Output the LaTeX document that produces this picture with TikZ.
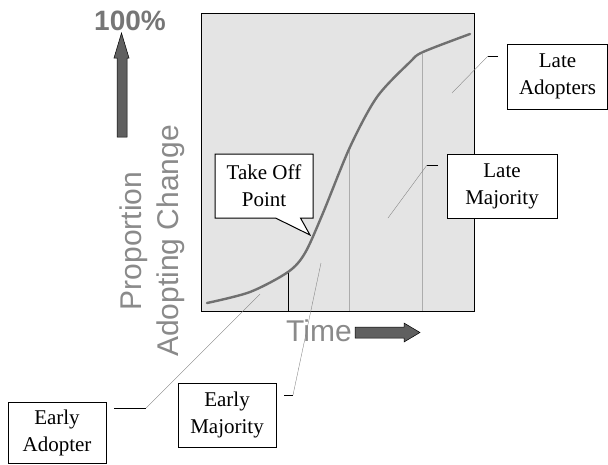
\documentclass[tikz,border=0pt]{standalone}
\usepackage{fontspec}
\usepackage{tikz}
\usetikzlibrary{shapes,shapes.callouts,positioning,calc}
\newfontfamily\axisfont{Liberation Sans}
\newfontfamily\boxfont{Liberation Serif}
\definecolor{plotgray}{RGB}{228,228,228}
\definecolor{curvegray}{RGB}{112,112,112}
\definecolor{divgray}{RGB}{172,172,172}
\definecolor{labelgray}{RGB}{138,138,138}
\definecolor{pctgray}{RGB}{118,118,118}
\definecolor{arrowgray}{RGB}{96,96,96}

\begin{document}
\begin{tikzpicture}[x=1pt,y=-1pt,
  lbl/.style={rectangle, draw, fill=white, line width=1pt, align=center,
              minimum width=98pt, minimum height=64pt, inner sep=2pt,
              font=\boxfont\fontsize{21}{27}\selectfont},
  axis/.style={text=labelgray, font=\axisfont\fontsize{30}{37}\selectfont},
  fat/.style={fill=arrowgray, draw=black, line width=0.5pt},
  tick/.style={line width=0.8pt},
  leader/.style={draw=gray, line width=0.35pt}
]
  \useasboundingbox (0,0) rectangle (608,464);

  \node[draw, fill=plotgray, line width=0.9pt, inner sep=0pt, outer sep=0pt,
        minimum width=273pt, minimum height=298pt, anchor=north west]
        (plot) at (201,13) {};

  \coordinate (c1) at (288,272);
  \coordinate (c2) at (349,150);
  \coordinate (c3) at (422,54);
  \draw[tick] (c1) -- (c1 |- plot.south);
  \draw[divgray, line width=0.7pt] (c2) -- (c2 |- plot.south);
  \draw[divgray, line width=0.7pt] (c3) -- (c3 |- plot.south);

  \draw[curvegray, line width=2.4pt, line cap=round]
    plot[smooth, tension=0.5] coordinates {(207,303) (250,292) (288,272)
      (305,253) (323,213) (350,147) (377,97) (410,62) (423,52) (470,34)};

  \node[pctgray, font=\axisfont\bfseries\fontsize{28}{28}\selectfont]
    (pct) at (130,20.5) {100\%};
  \draw[fat] (117,137) -- (117,58) -- (114,58) -- (121.5,33) -- (129,58)
    -- (127,58) -- (127,137) -- cycle;
  \node[axis, rotate=90, align=center] (ylab) at (152.4,241)
    {Proportion\\Adopting Change};
  \node[axis] (xlab) at (319,331) {Time};
  \draw[fat] (355,327) -- (404,327) -- (404,323) -- (420,332.5) -- (404,342)
    -- (404,338) -- (355,338) -- cycle;

  \node[lbl, rectangle callout, callout absolute pointer={(310,235)},
        callout pointer width=25pt] (takeoff) at (264,186) {Take Off\\Point};
  \node[lbl, minimum width=110pt, right=133pt of takeoff] (latemaj)
    {Late\\Majority};
  \node[lbl, minimum width=100pt, minimum height=65pt] (lateadp)
    at (557.5,76.5) {Late\\Adopters};
  \node[lbl, minimum height=61pt] (earlyadp) at (57,432.5) {Early\\Adopter};
  \node[lbl] (earlymaj) at (227,415) {Early\\Majority};

  \coordinate (ea1) at (114,408);
  \coordinate (ea2) at (146,408);
  \coordinate (ea3) at (260,294);
  \coordinate (em1) at (284,395);
  \coordinate (em2) at (293,395);
  \coordinate (em3) at (321,263);
  \coordinate (lm1) at (438,165);
  \coordinate (lm2) at (427,165);
  \coordinate (lm3) at (388,218);
  \coordinate (la1) at (498,56);
  \coordinate (la2) at (488,56);
  \coordinate (la3) at (452,93);

  \draw[tick] (ea1) -- (ea2);
  \draw[leader] (ea2) -- (ea3);
  \draw[tick] (em1) -- (em2);
  \draw[leader] (em2) -- (em3);
  \draw[tick] (lm1) -- (lm2);
  \draw[leader] (lm2) -- (lm3);
  \draw[tick] (la1) -- (la2);
  \draw[leader] (la2) -- (la3);
\end{tikzpicture}
\end{document}
